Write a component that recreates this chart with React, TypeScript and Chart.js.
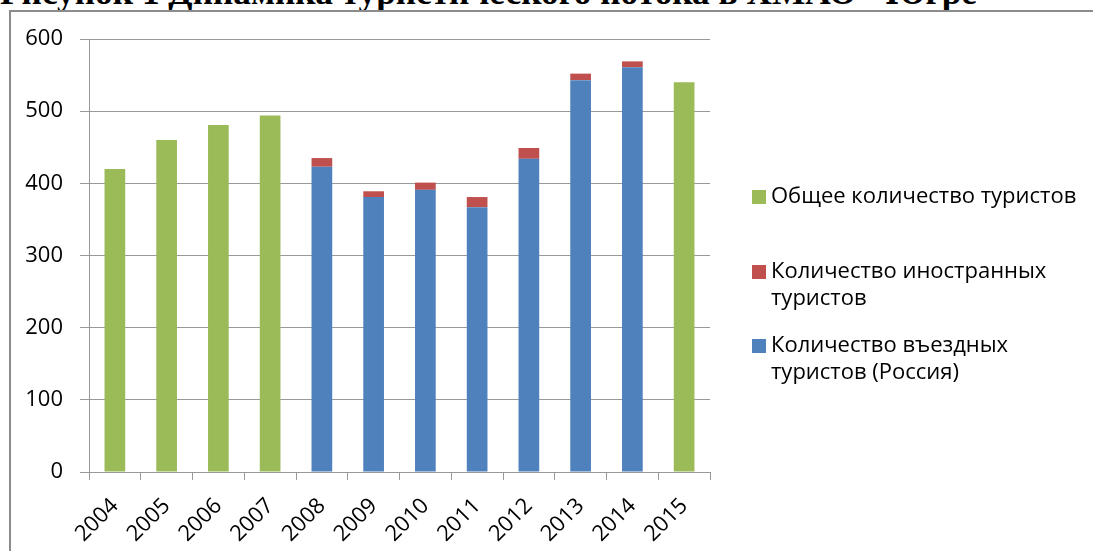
import React, { useEffect, useRef } from "react";
import { Chart, registerables } from "chart.js";

Chart.register(...registerables);

const TITLE = "Рисунок 1 Динамика туристического потока в ХМАО - Югре";
const YEARS = ["2004", "2005", "2006", "2007", "2008", "2009", "2010", "2011", "2012", "2013", "2014", "2015"];
const TOTAL = [420, 460, 481, 494, null, null, null, null, null, null, null, 540];
const DOMESTIC = [null, null, null, null, 423, 381, 391, 367, 434, 543, 561, null];
const FOREIGN = [null, null, null, null, 12, 8, 10, 14, 15, 9, 8, null];
const LABEL_TOTAL = "Общее количество туристов";
const LABEL_FOREIGN = "Количество иностранных туристов";
const LABEL_DOMESTIC = "Количество въездных туристов (Россия)";
const LEGEND_LINES = [
  ["Общее количество туристов"],
  ["Количество иностранных", "туристов"],
  ["Количество въездных", "туристов (Россия)"],
];
const Y_TICKS = [0, 100, 200, 300, 400, 500, 600];

const GREEN = "#9BBB59";
const RED = "#C0504D";
const BLUE = "#4F81BD";
const FONT = '"Open Sans", "Liberation Sans", sans-serif';

const legendPlugin = {
  id: "sideLegend",
  afterDraw(chart: any) {
    const ctx = chart.ctx;
    const colors = [GREEN, RED, BLUE];
    const firstLineY = [197, 272, 346];
    const lineH = 27;
    ctx.save();
    ctx.font = `22px ${FONT}`;
    ctx.textBaseline = "middle";
    ctx.textAlign = "left";
    LEGEND_LINES.forEach((lines, i) => {
      const y = firstLineY[i];
      ctx.fillStyle = colors[i];
      ctx.fillRect(752, y - 7, 14, 14);
      ctx.fillStyle = "#000";
      lines.forEach((t, j) => ctx.fillText(t, 771, y + j * lineH));
    });
    ctx.restore();
  },
};

export default function App() {
  const ref = useRef<HTMLCanvasElement>(null);
  useEffect(() => {
    if (!ref.current) return;
    const chart = new Chart(ref.current, {
      type: "bar",
      data: {
        labels: YEARS,
        datasets: [
          { label: LABEL_DOMESTIC, data: DOMESTIC as any, backgroundColor: BLUE, stack: "s" },
          { label: LABEL_FOREIGN, data: FOREIGN as any, backgroundColor: RED, stack: "s" },
          { label: LABEL_TOTAL, data: TOTAL as any, backgroundColor: GREEN, stack: "s" },
        ],
      },
      options: {
        responsive: false,
        animation: false,
        events: [],
        layout: { padding: { left: 0, right: 383, top: 39, bottom: 0 } },
        datasets: { bar: { categoryPercentage: 1, barPercentage: 0.4 } },
        plugins: { legend: { display: false }, tooltip: { enabled: false }, title: { display: false } },
        scales: {
          x: {
            stacked: true,
            afterFit: (s: any) => { s.height = 79; },
            grid: { drawOnChartArea: false, drawTicks: true, tickLength: 8, color: "#999", offset: true },
            border: { color: "#999", width: 1 },
            ticks: {
              autoSkip: false,
              maxRotation: 45,
              minRotation: 45,
              color: "#000",
              padding: 13,
              font: { family: FONT, size: 22 },
            },
          },
          y: {
            stacked: true,
            min: 0,
            max: 600,
            afterFit: (s: any) => { s.width = 89; },
            afterBuildTicks: (s: any) => { s.ticks = Y_TICKS.map((v) => ({ value: v })); },
            grid: { color: "#999", tickLength: 9, drawTicks: true },
            border: { color: "#999", width: 1 },
            ticks: { color: "#000", padding: 17, font: { family: FONT, size: 22 } },
          },
        },
      },
      plugins: [legendPlugin],
    });
    return () => chart.destroy();
  }, []);

  return (
    <div style={{ position: "absolute", left: 0, top: 0, width: 1093, height: 551, overflow: "hidden", background: "#fff" }}>
      <div
        style={{
          position: "absolute",
          left: 0,
          top: -24,
          whiteSpace: "nowrap",
          font: 'bold 35.3px "Liberation Serif", serif',
          lineHeight: "34px",
          color: "#000",
        }}
      >
        {TITLE}
      </div>
      <div
        style={{
          position: "absolute",
          left: 9,
          top: 10,
          width: 1200,
          height: 700,
          border: "2px solid #8c8c8c",
          boxSizing: "border-box",
        }}
      />
      <canvas ref={ref} width={1093} height={551} style={{ position: "absolute", left: 0, top: 0 }} />
    </div>
  );
}
